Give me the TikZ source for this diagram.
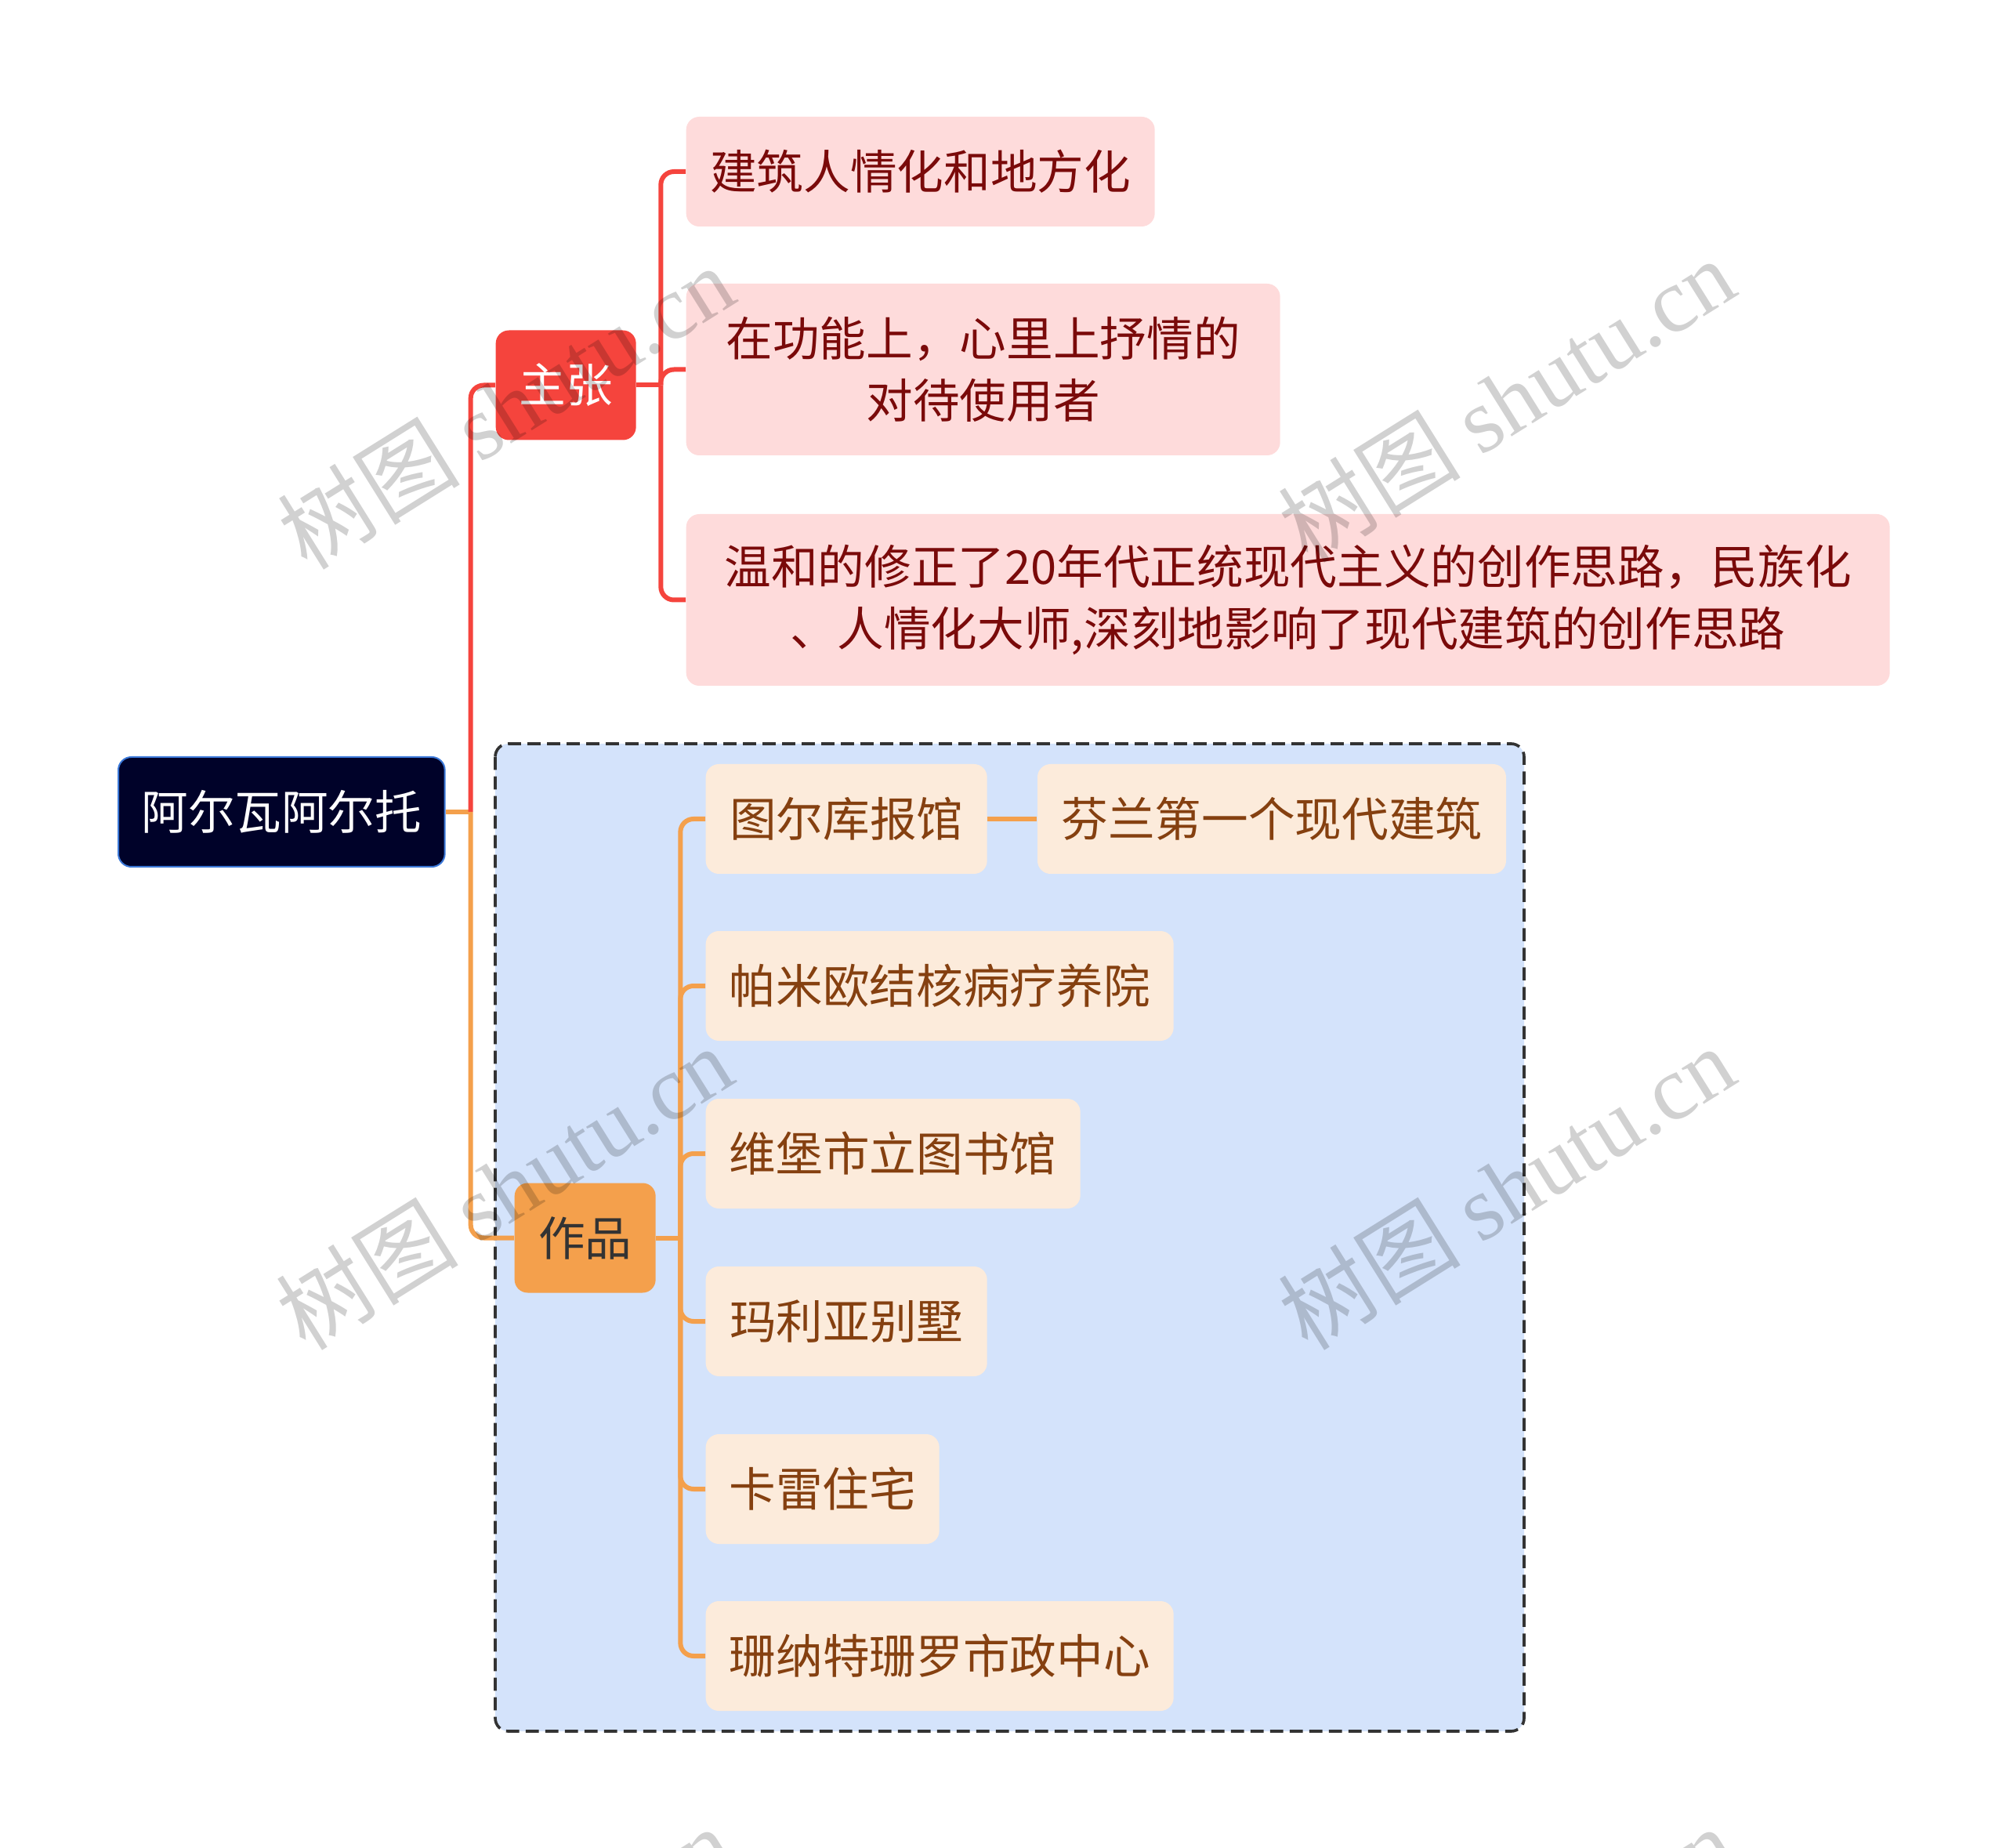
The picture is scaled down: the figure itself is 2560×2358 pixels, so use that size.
\documentclass[tikz,border=0pt]{standalone}
\usepackage{fontspec}
\setmainfont{Noto Sans CJK SC}
\newfontfamily\wmlatin{Liberation Serif}
\usetikzlibrary{positioning}
\definecolor{rootfill}{HTML}{000229}
\definecolor{rootedge}{HTML}{3B78D8}
\definecolor{zhred}{HTML}{F5443D}
\definecolor{zhpink}{HTML}{FEDBDB}
\definecolor{zhtext}{HTML}{7A0A0A}
\definecolor{zporange}{HTML}{F4A04C}
\definecolor{zpcream}{HTML}{FCEBDB}
\definecolor{zptext}{HTML}{854010}
\definecolor{boxblue}{HTML}{D4E3FB}
\begin{document}
\begin{tikzpicture}[x=0.3pt,y=-0.3pt,
  every node/.style={font=\fontsize{17.9}{23.5}\selectfont,inner xsep=0pt,inner ysep=0pt,
    minimum height=42pt,rounded corners=5pt,align=center,anchor=west},
  rootnode/.style={fill=rootfill,draw=rootedge,line width=0.6pt,text=white},
  redtopic/.style={fill=zhred,text=white},
  redleaf/.style={fill=zhpink,text=zhtext},
  orangetopic/.style={fill=zporange,text=black!80},
  orangeleaf/.style={fill=zpcream,text=zptext},
  redline/.style={draw=zhred,line width=1.8pt,rounded corners=5pt},
  orangeline/.style={draw=zporange,line width=1.8pt,rounded corners=5pt},
  groupbox/.style={draw=black!80,fill=boxblue,line width=1.1pt,dash pattern=on 5pt off 2.5pt,rounded corners=5pt},
  wm/.style={anchor=center,rotate=32,text=black,opacity=0.18,font=\fontsize{35}{35}\selectfont,minimum height=0pt}]
\useasboundingbox (0,0) rectangle (2560,2358);
\draw[groupbox](632,949)rectangle(1945,2209);
\node[rootnode,minimum width=125pt] (root) at (150,1036) {阿尔瓦阿尔托};
\node[redtopic,minimum width=53.7pt] (zhu) at (632,491.5) {主张};
\node[redleaf,minimum width=179.4pt] (a1) at (875,219) {建筑人情化和地方化};
\node[redleaf,minimum width=227.4pt,minimum height=65.7pt] (a2) at (875,471.5) {在功能上，心里上抒情的\\对待使用者};
\node[redleaf,minimum width=460.8pt,minimum height=65.7pt] (a3) at (875,765.5) {温和的修正了20年代正统现代主义的创作思路，民族化\\、人情化大师,深刻地影响了现代建筑的创作思路};
\node[orangetopic,minimum width=54pt] (zuo) at (656,1579.5) {作品};
\node[orangeleaf,minimum width=107.7pt] (b1) at (900,1045) {图尔库报馆};
\node[orangeleaf,minimum width=179.4pt,right=18.9pt of b1] (b1x) {芬兰第一个现代建筑};
\node[orangeleaf,minimum width=179.1pt] (b2) at (900,1258) {帕米欧结核病疗养院};
\node[orangeleaf,minimum width=143.4pt] (b3) at (900,1472) {维堡市立图书馆};
\node[orangeleaf,minimum width=107.7pt] (b4) at (900,1686) {玛利亚别墅};
\node[orangeleaf,minimum width=89.4pt] (b5) at (900,1900) {卡雷住宅};
\node[orangeleaf,minimum width=179.1pt] (b6) at (900,2113) {珊纳特珊罗市政中心};
\path(root.east)++(32,0)coordinate(j0);
\path(zhu.east)++(31,0)coordinate(j1);
\path(zuo.east)++(31,0)coordinate(j2);
\draw[orangeline](root.east)--(j0);
\draw[redline](j0)|-(zhu.west);
\draw[orangeline](j0)|-(zuo.west);
\draw[redline](zhu.east)--(j1);
\foreach \n in {a1,a2,a3}
  \draw[redline](j1)|-(\n.west);
\draw[orangeline](zuo.east)--(j2);
\foreach \n in {b1,b2,b3,b4,b5,b6}
  \draw[orangeline](j2)|-(\n.west);
\draw[orangeline](b1.east)--(b1x.west);
\begin{scope}
\clip(0,0)rectangle(2560,2358);
\foreach \px/\py/\k in {645/519/1,1922/510/2,643/1515/3,1922/1515/4,643/2511/5,1922/2511/6}
  \node[wm] (wm\k) at (\px,\py) {树图 {\wmlatin shutu.cn}};
\end{scope}
\end{tikzpicture}
\end{document}
